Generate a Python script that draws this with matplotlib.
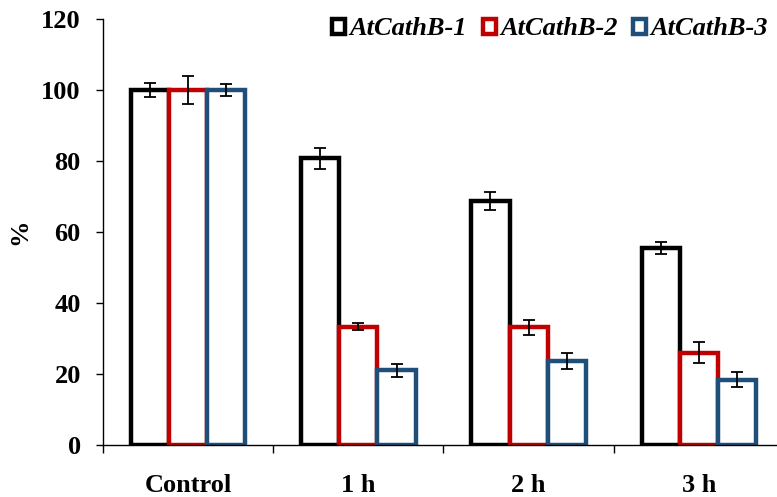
import matplotlib
matplotlib.use("Agg")
import matplotlib.pyplot as plt
from matplotlib.patches import Patch
import numpy as np

categories = ["Control", "1 h", "2 h", "3 h"]
series_names = ["AtCathB-1", "AtCathB-2", "AtCathB-3"]
vals_b1 = [100, 80.8, 68.8, 55.5]
vals_b2 = [100, 33.3, 33.1, 26.0]
vals_b3 = [100, 21.0, 23.6, 18.4]
err_b1 = [2.0, 3.0, 2.5, 1.7]
err_b2 = [4.0, 1.0, 2.1, 3.0]
err_b3 = [1.6, 1.9, 2.3, 2.1]
y_ticks = [0, 20, 40, 60, 80, 100, 120]

colors = ["#000000", "#C00000", "#1F4E79"]

plt.rcParams['font.family'] = ['Liberation Serif', 'DejaVu Serif']
plt.rcParams['font.weight'] = 'bold'

fig = plt.figure(figsize=(7.77, 4.97), dpi=100)
ax = fig.add_axes([103/777, 52/497, 681/777, 426/497])

x = np.arange(len(categories))
w = 0.224
allvals = [vals_b1, vals_b2, vals_b3]
allerr = [err_b1, err_b2, err_b3]
for i, (v, e, c) in enumerate(zip(allvals, allerr, colors)):
    pos = x + (i - 1) * w
    ax.bar(pos, v, width=w, facecolor='white', edgecolor=c, linewidth=3.2, zorder=2)
for i, (v, e) in enumerate(zip(allvals, allerr)):
    pos = x + (i - 1) * w
    ax.errorbar(pos, v, yerr=e, fmt='none', ecolor='black', elinewidth=1.3,
                capsize=4.5, capthick=1.3, zorder=3)

ax.set_xlim(-0.5, 3.5)
ax.set_ylim(0, 120)
ax.set_yticks(y_ticks)
ax.set_yticklabels([str(t) for t in y_ticks], fontsize=19, fontweight='bold')
ax.tick_params(axis='y', direction='out', length=5, width=1, pad=11)

ax.set_xticks([-0.5, 0.5, 1.5, 2.5, 3.5])
ax.set_xticklabels([])
ax.tick_params(axis='x', which='major', direction='out', length=6, width=1)
ax.set_xticks(x, minor=True)
ax.set_xticklabels(categories, minor=True, fontsize=19, fontweight='bold')
ax.tick_params(axis='x', which='minor', length=0, pad=21)

for s in ['top', 'right']:
    ax.spines[s].set_visible(False)
for s in ['left', 'bottom']:
    ax.spines[s].set_linewidth(1)

fig.text(20/777, 1 - 232/497, "%", rotation=90, fontsize=19, fontweight='bold',
         ha='center', va='center')

handles = [Patch(facecolor='white', edgecolor=c, linewidth=3.2) for c in colors]
leg = fig.legend(handles, series_names, loc='upper right', bbox_to_anchor=(1.007, 0.994),
                 ncol=3, frameon=False, handlelength=0.5, handleheight=0.5,
                 handletextpad=0.15, columnspacing=0.6, borderaxespad=0.15,
                 prop={'family': 'Liberation Serif', 'weight': 'bold', 'style': 'italic', 'size': 19})

fig.savefig("out.png", dpi=100)
